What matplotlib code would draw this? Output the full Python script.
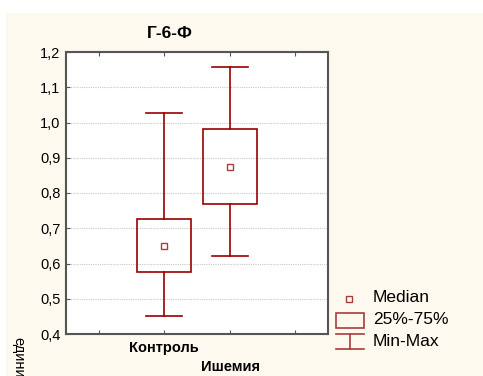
import matplotlib
matplotlib.use("Agg")
from matplotlib import pyplot as plt
from matplotlib.patches import Rectangle
from matplotlib.lines import Line2D

plt.rcParams['font.family'] = ['Liberation Sans', 'DejaVu Sans']

# data
groups = ['Контроль', 'Ишемия']
mins = [0.451, 0.621]
q1 = [0.576, 0.769]
medians = [0.650, 0.874]
q3 = [0.726, 0.982]
maxs = [1.027, 1.157]
yticks = [0.4, 0.5, 0.6, 0.7, 0.8, 0.9, 1.0, 1.1, 1.2]
ytick_labels = ['0,4', '0,5', '0,6', '0,7', '0,8', '0,9', '1,0', '1,1', '1,2']
title = 'Г-6-Ф'
ylabel = 'единицы'
legend_labels = ['Median', '25%-75%', 'Min-Max']

red = '#990000'
cream = '#fdf9ee'

fig = plt.figure(figsize=(4.83, 3.76), dpi=100, facecolor='white')
# cream panel behind everything
fig.patches.append(Rectangle((6 / 483, 0), 1, 1 - 13 / 376, transform=fig.transFigure,
                             facecolor=cream, edgecolor='none', zorder=-10))

ax = fig.add_axes([66 / 483, 42 / 376, 262 / 483, 282 / 376])
ax.set_facecolor('white')

box_w = 0.82
cap_w = 0.55
for i in range(len(groups)):
    ax.add_patch(Rectangle((i - box_w / 2, q1[i]), box_w, q3[i] - q1[i],
                           facecolor='none', edgecolor=red, lw=1.2, zorder=3))
    ax.plot([i, i], [q3[i], maxs[i]], color=red, lw=1.2, zorder=3)
    ax.plot([i, i], [mins[i], q1[i]], color=red, lw=1.2, zorder=3)
    ax.plot([i - cap_w / 2, i + cap_w / 2], [maxs[i], maxs[i]], color=red, lw=1.2, zorder=3)
    ax.plot([i - cap_w / 2, i + cap_w / 2], [mins[i], mins[i]], color=red, lw=1.2, zorder=3)
    ax.plot(i, medians[i], marker='s', ms=4.5, mfc='none', mec='#b03a3a', mew=1.0, zorder=4)

ax.set_xlim(-1.5, 2.5)
ax.set_ylim(0.4, 1.2)
ax.set_yticks(yticks)
ax.set_yticklabels(ytick_labels, fontsize=10.5)
ax.set_xticks([-1, 0, 1, 2])
ax.set_xticklabels(['', groups[0], '', ''], fontsize=10.5, fontweight='bold')
ax.tick_params(axis='both', direction='in', length=3, color='#555555', top=True, right=False)
ax.tick_params(axis='x', pad=5)
ax.tick_params(axis='y', pad=4)
ax.grid(axis='y', color='#c8c8c8', linestyle=(0, (1, 1)), lw=0.8)
ax.set_axisbelow(True)
for s in ax.spines.values():
    s.set_color('#555555')
    s.set_linewidth(1.5)

fig.text(170 / 483, 1 - 34 / 376, title, ha='center', va='center', fontsize=12.5, fontweight='bold')
fig.text(231 / 483, 1 - 367 / 376, groups[1], ha='center', va='center', fontsize=10.5, fontweight='bold')
fig.text(18 / 483, 1 - 337 / 376, ylabel, ha='center', va='top', rotation=270, fontsize=10.5)

# legend drawn by hand
def fx(x):
    return x / 483

def fy(y):
    return 1 - y / 376

lc = '#a83c3c'
fig.add_artist(Line2D([fx(349)], [fy(299)], marker='s', ms=4.5, mfc='none', mec=lc, mew=1.0,
                      transform=fig.transFigure))
fig.patches.append(Rectangle((fx(336), fy(328)), fx(364) - fx(336), fy(313) - fy(328),
                             transform=fig.transFigure, facecolor='none', edgecolor=lc, lw=1.2))
fig.add_artist(Line2D([fx(336), fx(364)], [fy(334), fy(334)], color=lc, lw=1.2, transform=fig.transFigure))
fig.add_artist(Line2D([fx(336), fx(364)], [fy(349), fy(349)], color=lc, lw=1.2, transform=fig.transFigure))
fig.add_artist(Line2D([fx(350), fx(350)], [fy(334), fy(349)], color=lc, lw=1.2, transform=fig.transFigure))
for lab, y in zip(legend_labels, [298, 320, 342]):
    fig.text(fx(373), fy(y), lab, ha='left', va='center', fontsize=12.5)

fig.savefig('out.png', dpi=100, facecolor=fig.get_facecolor())
